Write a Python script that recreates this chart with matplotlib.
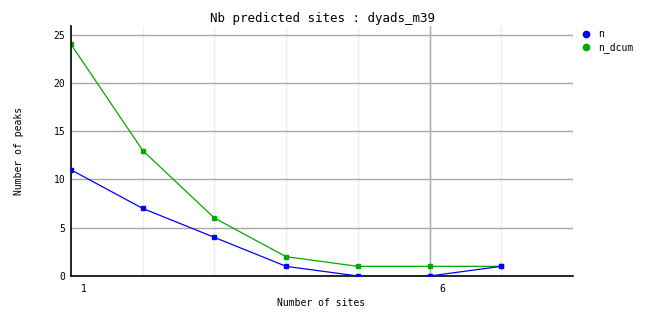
import matplotlib
matplotlib.use('Agg')
import matplotlib.pyplot as plt
from matplotlib.transforms import ScaledTranslation

# data
sites = [1, 2, 3, 4, 5, 6, 7]
n = [11, 7, 4, 1, 0, 0, 1]
n_dcum = [24, 13, 6, 2, 1, 1, 1]

plt.rcParams['font.family'] = 'DejaVu Sans Mono'

fig = plt.figure(figsize=(6.62, 3.28), dpi=100)
ax = fig.add_axes([71 / 662, 52 / 328, 502 / 662, 250 / 328])

# light minor grid on every site, darker on the labelled one
for x in range(1, 9):
    ax.axvline(x, color='#eeeeee', lw=1, zorder=0)
ax.axvline(6, color='#aaaaaa', lw=1, zorder=0)
for y in [5, 10, 15, 20, 25]:
    ax.axhline(y, color='#aaaaaa', lw=1, zorder=0)

ax.plot(sites, n, color='#0000ff', lw=0.9, marker='s', ms=2.5, label='n', zorder=3)
ax.plot(sites, n_dcum, color='#00aa00', lw=0.9, marker='s', ms=2.5, label='n_dcum', zorder=2)

ax.set_xlim(1, 8)
ax.set_ylim(0, 25.9)
ax.set_xticks([1, 6])
ax.set_yticks([0, 5, 10, 15, 20, 25])
ax.tick_params(axis='y', length=0, labelsize=7, pad=4)
ax.tick_params(axis='x', length=0, labelsize=7, pad=6)
# x tick labels sit a little to the right of their grid line
shift = ScaledTranslation(13 / 100, 0, fig.dpi_scale_trans)
for lbl in ax.get_xticklabels():
    lbl.set_transform(lbl.get_transform() + shift)

for s in ['top', 'right']:
    ax.spines[s].set_visible(False)
for s in ['left', 'bottom']:
    ax.spines[s].set_color('black')
    ax.spines[s].set_linewidth(1.2)

ax.set_title('Nb predicted sites : dyads_m39', fontsize=9, pad=3)
ax.set_xlabel('Number of sites', fontsize=7, va='center')
ax.xaxis.set_label_coords(0.499, -0.108)
ax.set_ylabel('Number of peaks', fontsize=7, va='center')
ax.yaxis.set_label_coords(-0.103, 0.5)

leg = ax.legend(loc='upper left', bbox_to_anchor=(1.003, 1.021), frameon=False,
                fontsize=7, handlelength=0.6, handletextpad=0.9,
                labelspacing=0.25)
for h in leg.legend_handles:
    h.set_linestyle('none')
    h.set_marker('o')
    h.set_markersize(4.5)

fig.savefig('out.png', dpi=100)
